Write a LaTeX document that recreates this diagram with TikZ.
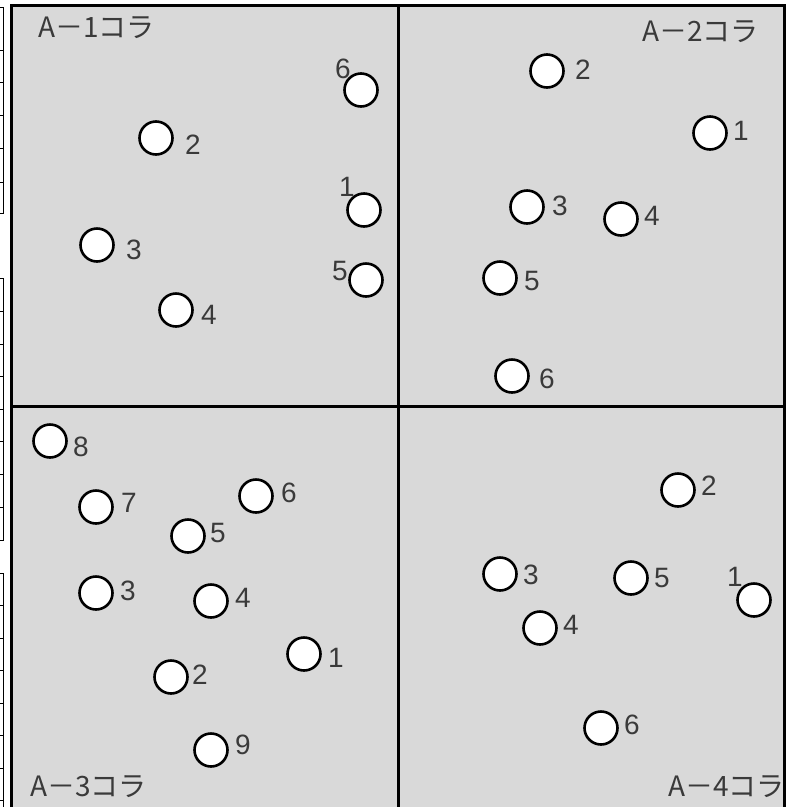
\documentclass[tikz,border=0pt]{standalone}
\usepackage{fontspec}
\setmainfont{Liberation Sans}
\newfontfamily\jpfont{Noto Sans CJK JP}
\usepackage{tikz}
\definecolor{panel}{HTML}{D9D9D9}
\definecolor{ink}{HTML}{3A3A3A}
\newcommand{\kora}[1]{A－#1コラ}

\begin{document}
\begin{tikzpicture}[x=1pt,y=-1pt,
   spot/.style={circle,draw=black,line width=2.6pt,fill=white,minimum size=33pt,inner sep=0pt},
   num/.style={text=ink,font=\fontsize{28}{28}\selectfont,inner sep=0pt},
   kora/.style={text=ink,font=\jpfont\fontsize{28}{28}\selectfont,inner sep=0pt},
   frame/.style={line width=3pt}]
  \clip (0,0) rectangle (792,807);
  \foreach \t/\b in {7/213,278/540,573/830}
    \draw[line width=0.8pt] (-2,\t) -- (3,\t) -- (3,\b) -- (-2,\b);
  \foreach \y in {50,82,115,148,182,311,344,376,409,441,474,507,605,638,670,703,735,768,800}
    \draw[line width=0.8pt] (-2,\y) -- (3,\y);
  \fill[panel] (11,5) rectangle (784,830);
  \begin{scope}
    \clip (11,5) rectangle (784,830);
    \node[kora,anchor=west] (t1) at (38,28) {\kora{1}};
    \node[kora,anchor=east] (t2) at (759,32) {\kora{2}};
    \node[kora,anchor=west] (t3) at (30,787) {\kora{3}};
    \node[kora,anchor=west] (t4) at (668,787) {\kora{4}};
  \end{scope}
  \coordinate (nw) at (11,5);
  \coordinate (ne) at (784,5);
  \coordinate (sw) at (11,830);
  \coordinate (se) at (784,830);
  \coordinate (mt) at (398,5);
  \coordinate (mb) at (398,830);
  \coordinate (ml) at (11,406);
  \coordinate (mr) at (784,406);
  \draw[frame] (sw) -- (nw) -- (ne) -- (se);
  \draw[frame] (mt) -- (mb) (ml) -- (mr);

  \node[spot] (a16) at (361,90) {};   \node[num] (n16) at (343,69) {6};
  \node[spot] (a12) at (156,138) {};  \node[num] (n12) at (193,145) {2};
  \node[spot] (a11) at (364,210) {};  \node[num] (n11) at (347,187) {1};
  \node[spot] (a13) at (97,245) {};   \node[num] (n13) at (134,250) {3};
  \node[spot] (a15) at (366,280) {};  \node[num] (n15) at (340,271) {5};
  \node[spot] (a14) at (176,310) {};  \node[num] (n14) at (209,315) {4};

  \node[spot] (a22) at (547,71) {};   \node[num] (n22) at (583,70) {2};
  \node[spot] (a21) at (710,133) {};  \node[num] (n21) at (741,131) {1};
  \node[spot] (a23) at (527,207) {};  \node[num] (n23) at (560,206) {3};
  \node[spot] (a24) at (621,219) {};  \node[num] (n24) at (652,216) {4};
  \node[spot] (a25) at (500,278) {};  \node[num] (n25) at (532,281) {5};
  \node[spot] (a26) at (512,376) {};  \node[num] (n26) at (547,379) {6};

  \node[spot] (a38) at (50,441) {};   \node[num] (n38) at (81,447) {8};
  \node[spot] (a37) at (96,507) {};   \node[num] (n37) at (129,503) {7};
  \node[spot] (a36) at (256,496) {};  \node[num] (n36) at (289,493) {6};
  \node[spot] (a35) at (188,536) {};  \node[num] (n35) at (218,533) {5};
  \node[spot] (a33) at (96,593) {};   \node[num] (n33) at (128,591) {3};
  \node[spot] (a34) at (211,601) {};  \node[num] (n34) at (243,598) {4};
  \node[spot] (a31) at (304,654) {};  \node[num] (n31) at (336,658) {1};
  \node[spot] (a32) at (171,677) {};  \node[num] (n32) at (200,675) {2};
  \node[spot] (a39) at (211,750) {};  \node[num] (n39) at (243,745) {9};

  \node[spot] (a42) at (678,490) {};  \node[num] (n42) at (709,486) {2};
  \node[spot] (a43) at (500,574) {};  \node[num] (n43) at (531,575) {3};
  \node[spot] (a45) at (631,578) {};  \node[num] (n45) at (662,578) {5};
  \node[spot] (a41) at (754,600) {};  \node[num] (n41) at (735,577) {1};
  \node[spot] (a44) at (540,628) {};  \node[num] (n44) at (571,625) {4};
  \node[spot] (a46) at (601,728) {};  \node[num] (n46) at (632,725) {6};
\end{tikzpicture}
\end{document}
